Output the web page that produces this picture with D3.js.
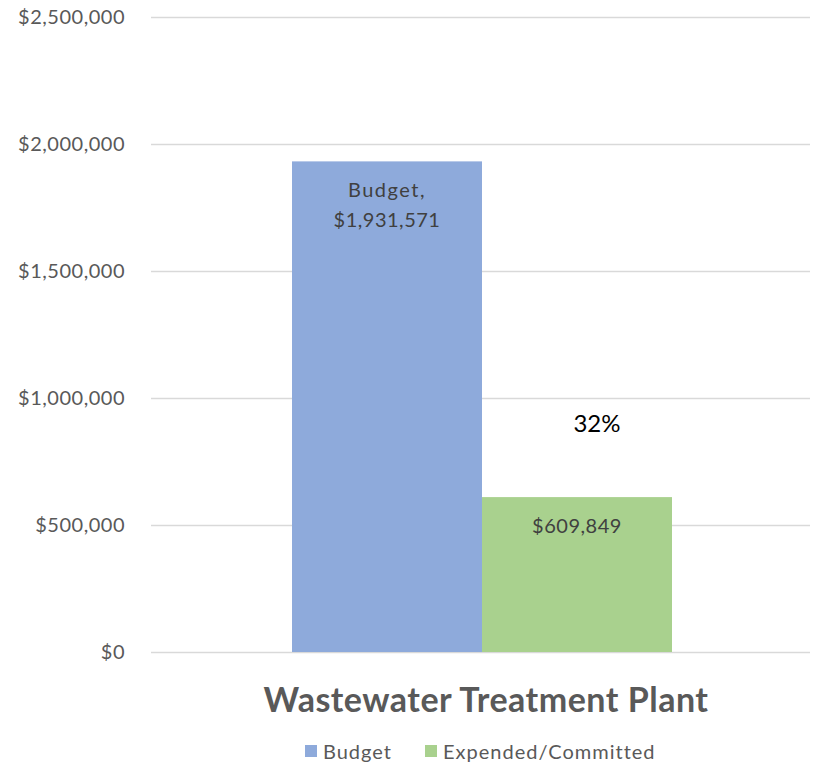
<!DOCTYPE html>
<html><head><meta charset="utf-8">
<script src="https://cdn.jsdelivr.net/npm/d3@7"></script>
<style>body{margin:0;background:#fff}svg{display:block}text{font-family:Lato,"Open Sans",sans-serif}</style>
</head><body>
<script>
const categories = ["Wastewater Treatment Plant"];
const seriesNames = ["Budget", "Expended/Committed"];
const seriesValues = [1931571, 609849];
const seriesColors = ["#8eaadb", "#a9d18e"];
const yTicks = [0, 500000, 1000000, 1500000, 2000000, 2500000];
const percentLabel = "32%";

const W = 821, H = 767;
const svg = d3.select("body").append("svg").attr("width", W).attr("height", H);
const plotLeft = 151, plotRight = 810, plotTop = 17, plotBottom = 652;

const y = d3.scaleLinear().domain([0, 2500000]).range([plotBottom, plotTop]);
const x0 = d3.scaleBand().domain(categories).range([plotLeft + 2, plotRight + 1]).paddingInner(0).paddingOuter(0.3658);
const x1 = d3.scaleBand().domain(seriesNames).range([0, x0.bandwidth()]);

const fmt = d3.format("$,");

// gridlines
svg.append("g").selectAll("line").data(yTicks).join("line")
  .attr("x1", plotLeft).attr("x2", plotRight)
  .attr("y1", d => Math.round(y(d)) + 0.5).attr("y2", d => Math.round(y(d)) + 0.5)
  .attr("stroke", "#d9d9d9").attr("stroke-width", 1.5);

// y axis labels
const yAxis = d3.axisLeft(y).tickValues(yTicks).tickFormat(fmt).tickSize(0).tickPadding(0);
const ga = svg.append("g").attr("transform", `translate(125,0)`).call(yAxis);
ga.select(".domain").remove();
ga.selectAll("text").attr("font-size", 20).attr("letter-spacing", 0.5).attr("fill", "#595959").attr("font-family", "Lato, sans-serif");

// bars
const g = svg.append("g").attr("transform", `translate(${x0(categories[0])},0)`);
g.selectAll("rect").data(seriesValues).join("rect")
  .attr("x", (d, i) => x1(seriesNames[i]))
  .attr("width", x1.bandwidth())
  .attr("y", d => y(d))
  .attr("height", d => plotBottom - y(d))
  .attr("fill", (d, i) => seriesColors[i]);

// labels
const bx = i => x0(categories[0]) + x1(seriesNames[i]) + x1.bandwidth() / 2;
svg.append("text").attr("x", bx(0)).attr("y", y(seriesValues[0]) + 36)
  .attr("text-anchor", "middle").attr("font-size", 20).attr("fill", "#404040").attr("letter-spacing", 1.5)
  .text(seriesNames[0] + ",");
svg.append("text").attr("x", bx(0)).attr("y", y(seriesValues[0]) + 66)
  .attr("text-anchor", "middle").attr("font-size", 20).attr("fill", "#404040").attr("letter-spacing", 0.5)
  .text(fmt(seriesValues[0]));
svg.append("text").attr("x", bx(1)).attr("y", y(seriesValues[1]) + 36)
  .attr("text-anchor", "middle").attr("font-size", 20).attr("fill", "#404040").attr("letter-spacing", 0.5)
  .text(fmt(seriesValues[1]));
svg.append("text").attr("x", bx(1) + 20).attr("y", 432)
  .attr("text-anchor", "middle").attr("font-size", 24).attr("fill", "#000")
  .text(percentLabel);

// category title
svg.append("text").attr("x", x0(categories[0]) + x0.bandwidth() / 2 + 4).attr("y", 712)
  .attr("text-anchor", "middle").attr("font-size", 34).attr("font-weight", "bold").attr("letter-spacing", 0.5).attr("fill", "#595959")
  .text(categories[0]);

// legend
const leg = svg.append("g");
const legX = [305, 425];
seriesNames.forEach((n, i) => {
  leg.append("rect").attr("x", legX[i]).attr("y", 745).attr("width", 12).attr("height", 12).attr("fill", seriesColors[i]);
  leg.append("text").attr("x", legX[i] + 18).attr("y", 759).attr("font-size", 20).attr("letter-spacing", 1).attr("fill", "#595959").text(n);
});
</script>
</body></html>
